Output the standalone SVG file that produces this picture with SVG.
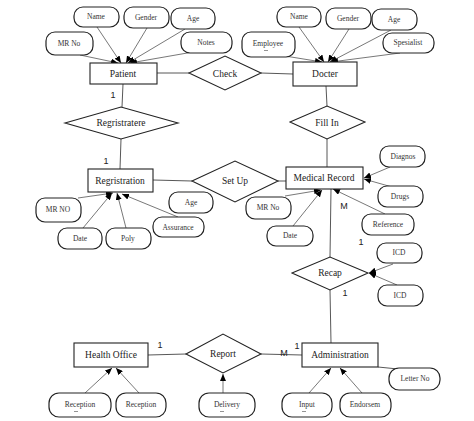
<svg xmlns="http://www.w3.org/2000/svg" width="474" height="421" viewBox="0 0 474 421">
<style>
.bg{fill:#fff}
.ent{fill:#fff;stroke:#222;stroke-width:1.1}
.rel{fill:#fff;stroke:#222;stroke-width:1.1}
.att{fill:#fff;stroke:#222;stroke-width:1.2}
.et{font-family:"Liberation Serif",serif;font-size:9.5px;fill:#222;text-anchor:middle}
.at{font-family:"Liberation Serif",serif;font-size:7.5px;fill:#333;text-anchor:middle}
.card{font-family:"Liberation Sans",sans-serif;font-size:9px;fill:#222;text-anchor:middle}
.ln{stroke:#444;stroke-width:0.9;fill:none}
.ar{stroke:#555;stroke-width:0.8;fill:none;marker-end:url(#ah)}
.tk{stroke:#666;stroke-width:0.7}
</style>
<defs>
<marker id="ah" markerUnits="userSpaceOnUse" markerWidth="7" markerHeight="6" refX="7" refY="3" orient="auto">
<path d="M0,0 L7,3 L0,6 Z" fill="#000"/>
</marker>
</defs>
<rect class="bg" width="474" height="421"/>

<g id="connectors">
<line class="ln" x1="157" y1="73" x2="189" y2="73"/>
<line class="ln" x1="261" y1="73" x2="293" y2="74"/>
<line class="ln" x1="123" y1="84" x2="122" y2="107"/>
<line class="ln" x1="121" y1="139" x2="120" y2="169"/>
<line class="ln" x1="153" y1="180" x2="192" y2="181"/>
<line class="ln" x1="278" y1="181" x2="286" y2="181"/>
<line class="ln" x1="326" y1="86" x2="327" y2="106"/>
<line class="ln" x1="327" y1="139" x2="327" y2="167"/>
<line class="ln" x1="330" y1="257" x2="331" y2="189"/>
<line class="ln" x1="330" y1="290" x2="331" y2="343"/>
<line class="ln" x1="148" y1="355" x2="186" y2="354"/>
<line class="ln" x1="261" y1="354" x2="302" y2="355"/>
<line class="ln" x1="398" y1="369" x2="378" y2="367"/>
<!-- attribute arrows -->
<line class="ar" x1="80" y1="55" x2="118" y2="63"/>
<line class="ar" x1="97" y1="27" x2="121" y2="63"/>
<line class="ar" x1="147" y1="28" x2="126" y2="63"/>
<line class="ar" x1="185" y1="29" x2="128" y2="63"/>
<line class="ar" x1="193" y1="52" x2="130" y2="63"/>
<line class="ar" x1="285" y1="56" x2="322" y2="62"/>
<line class="ar" x1="299" y1="27" x2="324" y2="62"/>
<line class="ar" x1="349" y1="29" x2="328" y2="62"/>
<line class="ar" x1="391" y1="30" x2="330" y2="62"/>
<line class="ar" x1="400" y1="53" x2="331" y2="62"/>
<line class="ar" x1="78" y1="198" x2="113" y2="193"/>
<line class="ar" x1="83" y1="228" x2="112" y2="193"/>
<line class="ar" x1="126" y1="228" x2="117" y2="193"/>
<line class="ar" x1="178" y1="217" x2="122" y2="194"/>
<line class="ar" x1="285" y1="196" x2="321" y2="190"/>
<line class="ar" x1="293" y1="226" x2="322" y2="190"/>
<line class="ar" x1="390" y1="167" x2="364" y2="178"/>
<line class="ar" x1="392" y1="187" x2="364" y2="179"/>
<line class="ar" x1="385" y1="214" x2="333" y2="189"/>
<line class="ar" x1="393" y1="264" x2="369" y2="273"/>
<line class="ar" x1="397" y1="285" x2="369" y2="273"/>
<line class="ar" x1="309" y1="393" x2="331" y2="368"/>
<line class="ar" x1="362" y1="393" x2="340" y2="368"/>
<line class="ar" x1="85" y1="393" x2="112" y2="368"/>
<line class="ar" x1="139" y1="393" x2="116" y2="368"/>
<line class="ar" x1="223" y1="393" x2="223" y2="374"/>
</g>

<g id="cardinalities">
<text class="card" x="113" y="98">1</text>
<text class="card" x="106" y="164">1</text>
<text class="card" x="344" y="209">M</text>
<text class="card" x="361" y="245">1</text>
<text class="card" x="345" y="296">1</text>
<text class="card" x="160" y="348">1</text>
<text class="card" x="284" y="356">M</text>
<text class="card" x="297" y="349">1</text>
</g>

<g id="patient"><rect class="ent" x="90" y="63" width="67" height="21"/><text class="et" x="123" y="77">Patient</text></g>
<g id="docter"><rect class="ent" x="293" y="62" width="64" height="24"/><text class="et" x="325" y="77">Docter</text></g>
<g id="registration"><rect class="ent" x="88" y="169" width="65" height="23"/><text class="et" x="120" y="184">Regristration</text></g>
<g id="medical-record"><rect class="ent" x="286" y="167" width="77" height="22"/><text class="et" x="324" y="181">Medical Record</text></g>
<g id="health-office"><rect class="ent" x="74" y="343" width="74" height="24"/><text class="et" x="111" y="358">Health Office</text></g>
<g id="administration"><rect class="ent" x="302" y="343" width="76" height="24"/><text class="et" x="340" y="358">Administration</text></g>

<g id="check"><polygon class="rel" points="189,73 225,56 261,73 225,90"/><text class="et" x="225" y="77">Check</text></g>
<g id="registratere"><polygon class="rel" points="65,123 121,107 178,123 121,139"/><text class="et" x="121" y="126">Regristratere</text></g>
<g id="fill-in"><polygon class="rel" points="290,122 327,106 365,122 327,139"/><text class="et" x="327" y="126">Fill In</text></g>
<g id="set-up"><polygon class="rel" points="192,181 235,161 278,181 235,202"/><text class="et" x="235" y="184">Set Up</text></g>
<g id="recap"><polygon class="rel" points="292,273 330,257 368,273 330,290"/><text class="et" x="330" y="276">Recap</text></g>
<g id="report"><polygon class="rel" points="186,354 223,334 261,354 223,373"/><text class="et" x="223" y="357">Report</text></g>

<g id="attr-patient-name"><rect class="att" x="74" y="7" width="45" height="20" rx="9"/><text class="at" x="96" y="19">Name</text></g>
<g id="attr-patient-gender"><rect class="att" x="124" y="7" width="45" height="21" rx="9"/><text class="at" x="146" y="20">Gender</text></g>
<g id="attr-patient-age"><rect class="att" x="171" y="8" width="44" height="21" rx="9"/><text class="at" x="193" y="21">Age</text></g>
<g id="attr-patient-mrno"><rect class="att" x="46" y="32" width="47" height="23" rx="9"/><text class="at" x="69" y="46">MR No</text></g>
<g id="attr-patient-notes"><rect class="att" x="181" y="32" width="51" height="21" rx="9"/><text class="at" x="206" y="45">Notes</text></g>

<g id="attr-docter-name"><rect class="att" x="277" y="7" width="44" height="20" rx="9"/><text class="at" x="299" y="19">Name</text></g>
<g id="attr-docter-gender"><rect class="att" x="326" y="8" width="45" height="21" rx="9"/><text class="at" x="348" y="21">Gender</text></g>
<g id="attr-docter-age"><rect class="att" x="372" y="9" width="45" height="21" rx="9"/><text class="at" x="394" y="22">Age</text></g>
<g id="attr-docter-employee"><rect class="att" x="242" y="32" width="53" height="25" rx="9"/><text class="at" x="268" y="46">Employee</text><line class="tk" x1="264" y1="50.5" x2="268" y2="50.5"/></g>
<g id="attr-docter-spesialist"><rect class="att" x="383" y="33" width="51" height="20" rx="9"/><text class="at" x="408" y="45">Spesialist</text></g>

<g id="attr-reg-mrno"><rect class="att" x="36" y="198" width="45" height="24" rx="9"/><text class="at" x="58" y="212">MR NO</text></g>
<g id="attr-reg-date"><rect class="att" x="58" y="228" width="44" height="21" rx="9"/><text class="at" x="80" y="241">Date</text></g>
<g id="attr-reg-poly"><rect class="att" x="106" y="228" width="45" height="21" rx="9"/><text class="at" x="128" y="241">Poly</text></g>
<g id="attr-age"><rect class="att" x="169" y="192" width="44" height="21" rx="9"/><text class="at" x="191" y="205">Age</text></g>
<g id="attr-reg-assurance"><rect class="att" x="153" y="217" width="51" height="20" rx="9"/><text class="at" x="178" y="230">Assurance</text></g>

<g id="attr-mr-mrno"><rect class="att" x="246" y="197" width="45" height="22" rx="9"/><text class="at" x="268" y="210">MR No</text></g>
<g id="attr-mr-date"><rect class="att" x="267" y="226" width="46" height="20" rx="9"/><text class="at" x="290" y="238">Date</text></g>
<g id="attr-mr-diagnos"><rect class="att" x="380" y="146" width="45" height="21" rx="9"/><text class="at" x="403" y="159">Diagnos</text></g>
<g id="attr-mr-drugs"><rect class="att" x="378" y="186" width="45" height="21" rx="9"/><text class="at" x="400" y="199">Drugs</text></g>
<g id="attr-mr-reference"><rect class="att" x="362" y="214" width="52" height="21" rx="9"/><text class="at" x="388" y="227">Reference</text></g>
<g id="attr-recap-icd1"><rect class="att" x="377" y="243" width="45" height="20" rx="9"/><text class="at" x="399" y="255">ICD</text></g>
<g id="attr-recap-icd2"><rect class="att" x="378" y="285" width="45" height="21" rx="9"/><text class="at" x="400" y="298">ICD</text></g>

<g id="attr-ho-reception1"><rect class="att" x="49" y="393" width="62" height="24" rx="10"/><text class="at" x="80" y="407">Reception</text><line class="tk" x1="74" y1="411.5" x2="78" y2="411.5"/></g>
<g id="attr-ho-reception2"><rect class="att" x="116" y="393" width="50" height="24" rx="10"/><text class="at" x="141" y="407">Reception</text></g>
<g id="attr-report-delivery"><rect class="att" x="199" y="393" width="56" height="24" rx="10"/><text class="at" x="227" y="407">Delivery</text><line class="tk" x1="220" y1="411.5" x2="224" y2="411.5"/></g>
<g id="attr-adm-input"><rect class="att" x="282" y="393" width="50" height="24" rx="10"/><text class="at" x="307" y="407">Input</text><line class="tk" x1="302" y1="411.5" x2="306" y2="411.5"/></g>
<g id="attr-adm-endorsem"><rect class="att" x="340" y="393" width="51" height="24" rx="10"/><text class="at" x="365" y="407">Endorsem</text></g>
<g id="attr-adm-letterno"><rect class="att" x="389" y="368" width="51" height="22" rx="10"/><text class="at" x="415" y="381">Letter No</text></g>
</svg>
